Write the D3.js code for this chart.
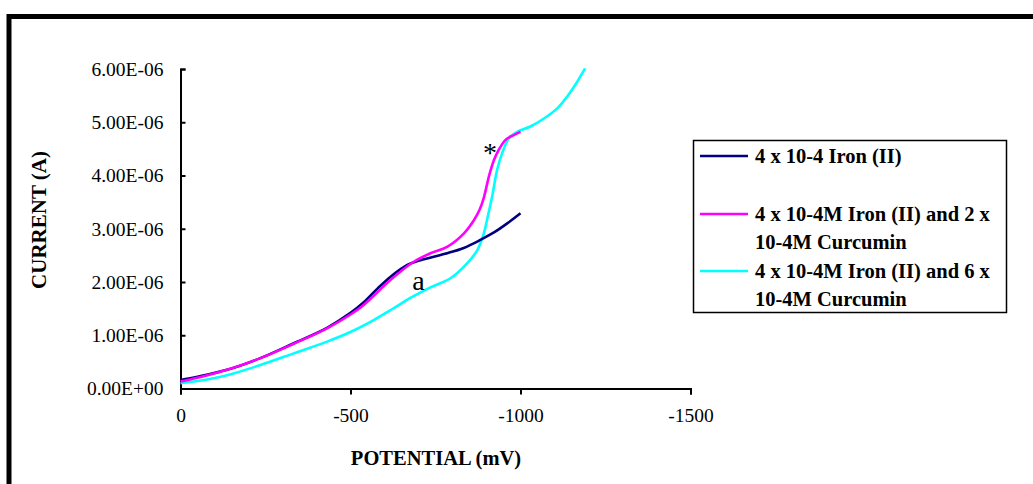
<!DOCTYPE html>
<html>
<head>
<meta charset="utf-8">
<script src="https://cdn.jsdelivr.net/npm/d3@7"></script>
<style>
  html, body { margin: 0; padding: 0; background: #fff; }
  svg { display: block; font-family: "Liberation Serif", "Times New Roman", serif; }
</style>
</head>
<body>
<svg id="chart" width="1033" height="484"></svg>
<script>
// ---------- DATA ----------
const xTicks = [0, -500, -1000, -1500];
const xTickLabels = ["0", "-500", "-1000", "-1500"];
const yTicks = [0, 1e-6, 2e-6, 3e-6, 4e-6, 5e-6, 6e-6];
const yTickLabels = ["0.00E+00", "1.00E-06", "2.00E-06", "3.00E-06", "4.00E-06", "5.00E-06", "6.00E-06"];

const seriesNames = [
  ["4 x 10-4 Iron (II)"],
  ["4 x 10-4M Iron (II) and 2 x", "10-4M Curcumin"],
  ["4 x 10-4M Iron (II) and 6 x", "10-4M Curcumin"]
];
const seriesColors = ["#000080", "#FF00FF", "#00FFFF"];

// potential (mV), current (uA)
const ironV = [0, -50, -137, -235, -333, -431, -500, -539, -580, -618, -667, -706, -784, -833, -882, -922, -961, -1000];
const ironI = [0.16, 0.22, 0.35, 0.57, 0.85, 1.14, 1.42, 1.62, 1.88, 2.10, 2.32, 2.41, 2.54, 2.64, 2.79, 2.93, 3.10, 3.29];

const cur2V = [0, -50, -137, -235, -333, -431, -500, -539, -618, -686, -735, -784, -833, -863, -880, -892, -907, -922, -936, -956, -980, -1000];
const cur2I = [0.13, 0.20, 0.35, 0.57, 0.84, 1.13, 1.39, 1.57, 2.04, 2.38, 2.54, 2.66, 2.91, 3.16, 3.36, 3.58, 3.98, 4.29, 4.48, 4.67, 4.76, 4.82];

const cur6V = [0, -50, -137, -235, -333, -431, -500, -559, -630, -676, -735, -794, -843, -873, -892, -902, -917, -931, -946, -966, -990, -1029, -1069, -1108, -1137, -1167, -1190];
const cur6I = [0.10, 0.14, 0.25, 0.44, 0.66, 0.88, 1.06, 1.25, 1.52, 1.70, 1.90, 2.07, 2.35, 2.60, 2.91, 3.18, 3.62, 4.10, 4.42, 4.70, 4.82, 4.92, 5.07, 5.26, 5.48, 5.76, 6.01];

const annotations = [
  { text: "a", v: -700, i: 1.85 },
  { text: "*", v: -910, i: 4.25 }
];

// ---------- CHART ----------
const svg = d3.select("#chart");

// outer frame (extends past right and bottom)
svg.append("rect")
  .attr("x", 9).attr("y", 16.5)
  .attr("width", 1100).attr("height", 600)
  .attr("fill", "none").attr("stroke", "#000").attr("stroke-width", 5);

const x = d3.scaleLinear().domain([0, -1500]).range([180.5, 690.5]);
const y = d3.scaleLinear().domain([0, 6e-6]).range([388.5, 69]);

// X axis
const xAxis = d3.axisBottom(x)
  .tickValues(xTicks)
  .tickSize(6)
  .tickPadding(14)
  .tickFormat((d, i) => xTickLabels[i]);
const gx = svg.append("g").attr("transform", `translate(0,${y(0)})`).call(xAxis);
gx.select(".domain").attr("stroke", "#000").attr("stroke-width", 2);
gx.selectAll(".tick line").attr("stroke", "#000").attr("stroke-width", 2);
gx.selectAll(".tick text").attr("font-size", 19.5).attr("fill", "#000")
  .attr("font-family", "Liberation Serif, Times New Roman, serif");

// Y axis (ticks inward)
const yAxis = d3.axisLeft(y)
  .tickValues(yTicks)
  .tickSizeInner(-5)
  .tickSizeOuter(-5)
  .tickPadding(17)
  .tickFormat((d, i) => yTickLabels[i]);
const gy = svg.append("g").attr("transform", `translate(${x(0)},0)`).call(yAxis);
gy.select(".domain").attr("stroke", "#000").attr("stroke-width", 2);
gy.selectAll(".tick line").attr("stroke", "#000").attr("stroke-width", 2);
gy.selectAll(".tick text").attr("font-size", 19.5).attr("fill", "#000")
  .attr("font-family", "Liberation Serif, Times New Roman, serif")
  .attr("x", -17);

// Axis titles
svg.append("text")
  .attr("x", 436).attr("y", 465)
  .attr("text-anchor", "middle")
  .attr("font-size", 20.5).attr("font-weight", "bold")
  .text("POTENTIAL (mV)");

svg.append("text")
  .attr("transform", "translate(46,220) rotate(-90)")
  .attr("text-anchor", "middle")
  .attr("font-size", 21).attr("font-weight", "bold")
  .text("CURRENT (A)");

// Lines
const seriesData = [
  ironV.map((v, k) => ({ v, i: ironI[k] * 1e-6 })),
  cur2V.map((v, k) => ({ v, i: cur2I[k] * 1e-6 })),
  cur6V.map((v, k) => ({ v, i: cur6I[k] * 1e-6 }))
];
const line = d3.line().x(d => x(d.v)).y(d => y(d.i)).curve(d3.curveCatmullRom.alpha(0.5));

// draw order: cyan, navy, magenta on top
[2, 0, 1].forEach(s => {
  svg.append("path")
    .datum(seriesData[s])
    .attr("d", line)
    .attr("fill", "none")
    .attr("stroke", seriesColors[s])
    .attr("stroke-width", 2.6)
    .attr("stroke-linejoin", "round");
});

// Annotations
annotations.forEach(a => {
  svg.append("text")
    .attr("x", x(a.v)).attr("y", y(a.i * 1e-6))
    .attr("text-anchor", "middle")
    .attr("font-size", 28)
    .attr("fill", "#000")
    .text(a.text);
});

// Legend
const legend = svg.append("g");
legend.append("rect")
  .attr("x", 693.5).attr("y", 140.5)
  .attr("width", 313).attr("height", 172)
  .attr("fill", "#fff").attr("stroke", "#000").attr("stroke-width", 1.5);

const legendY = [156, 214, 271];
seriesNames.forEach((lines, s) => {
  legend.append("line")
    .attr("x1", 700).attr("x2", 748)
    .attr("y1", legendY[s]).attr("y2", legendY[s])
    .attr("stroke", seriesColors[s]).attr("stroke-width", 2.5);
  lines.forEach((t, k) => {
    legend.append("text")
      .attr("x", 755).attr("y", legendY[s] + 7 + k * 28)
      .attr("font-size", 20.5).attr("font-weight", "bold")
      .attr("fill", "#000")
      .text(t);
  });
});
</script>
</body>
</html>
